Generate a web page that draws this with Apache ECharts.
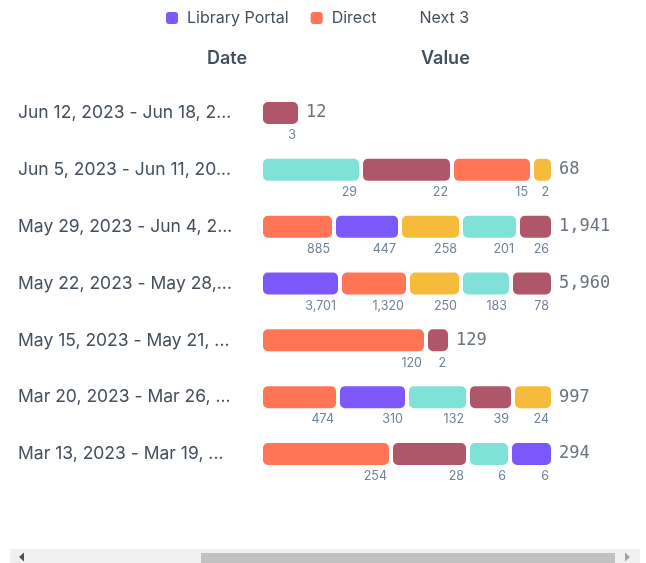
<!DOCTYPE html>
<html>
<head>
<meta charset="utf-8">
<script src="https://cdn.jsdelivr.net/npm/echarts@6/dist/echarts.min.js"></script>
<style>
html,body{margin:0;padding:0;background:#fff;}
#chart{width:646px;height:563px;}
</style>
</head>
<body>
<div id="chart"></div>
<script>
// ---- data ----
const dateRanges = [
  'Jun 12, 2023 - Jun 18, 2023',
  'Jun 5, 2023 - Jun 11, 2023',
  'May 29, 2023 - Jun 4, 2023',
  'May 22, 2023 - May 28, 2023',
  'May 15, 2023 - May 21, 2023',
  'Mar 20, 2023 - Mar 26, 2023',
  'Mar 13, 2023 - Mar 19, 2023'
];
const rowTotals = [12, 68, 1941, 5960, 129, 997, 294];
// segment values per row (in drawing order)
const segmentValues = [
  [3],
  [29, 22, 15, 2],
  [885, 447, 258, 201, 26],
  [3701, 1320, 250, 183, 78],
  [120, 2],
  [474, 310, 132, 39, 24],
  [254, 28, 6, 6]
];
// source of each segment
const segmentSources = [
  ['Next 3 · B'],
  ['Next 3 · A', 'Next 3 · B', 'Direct', 'Next 3 · C'],
  ['Direct', 'Library Portal', 'Next 3 · C', 'Next 3 · A', 'Next 3 · B'],
  ['Library Portal', 'Direct', 'Next 3 · C', 'Next 3 · A', 'Next 3 · B'],
  ['Direct', 'Next 3 · B'],
  ['Direct', 'Library Portal', 'Next 3 · A', 'Next 3 · B', 'Next 3 · C'],
  ['Direct', 'Next 3 · B', 'Next 3 · A', 'Library Portal']
];
// displayed segment length (relative units)
const segmentLengths = [
  [39],
  [100, 91, 80, 21],
  [73, 66, 61, 57, 35],
  [79, 68, 53, 50, 42],
  [165, 24],
  [77, 69, 61, 45, 40],
  [130, 77, 42, 43]
];
const legendNames = ['Library Portal', 'Direct', 'Next 3'];

// ---- styles ----
const sourceColors = {
  'Library Portal': '#7c58fc',
  'Direct': '#ff7555',
  'Next 3 · A': '#80e1d9',
  'Next 3 · B': '#b0566b',
  'Next 3 · C': '#f7bb3b'
};
const textColor = '#434f5c';
const fontFamily = 'Inter, "Noto Sans", sans-serif';

const maxSegs = Math.max(...segmentValues.map(r => r.length));
const series = [];
for (let p = 0; p < maxSegs; p++) {
  series.push({
    type: 'bar',
    name: 'pos' + p,
    stack: 'row',
    barWidth: 26,
    data: segmentValues.map((row, r) => {
      if (p >= row.length) return '-';
      return {
        value: segmentLengths[r][p],
        itemStyle: { color: sourceColors[segmentSources[r][p]] }
      };
    }),
    itemStyle: { borderColor: '#fff', borderWidth: 2, borderRadius: 6 },
    label: {
      show: true,
      position: ['100%', '100%'],
      align: 'right',
      verticalAlign: 'top',
      offset: [-4, 3],
      color: '#6f8299',
      fontSize: 12.5,
      fontFamily: fontFamily,
      formatter: params => segmentValues[params.dataIndex][p].toLocaleString('en-US')
    },
    emphasis: { disabled: true }
  });
}
// legend-only series
const legendColors = ['#7c58fc', '#ff7555', 'rgba(0,0,0,0)'];
legendNames.forEach((n, i) => {
  series.push({ type: 'bar', name: n, stack: 'row', data: [], itemStyle: { color: legendColors[i] } });
});
// totals at the end of each row
series.push({
  type: 'scatter',
  name: 'total',
  symbolSize: 0,
  data: segmentLengths.map((row, r) => [row.reduce((a, b) => a + b, 0), r]),
  label: {
    show: true,
    position: 'right',
    distance: 6,
    color: textColor,
    fontSize: 17,
    fontFamily: '"DejaVu Sans Mono", monospace',
    formatter: params => rowTotals[params.dataIndex].toLocaleString('en-US')
  },
  silent: true
});

const chart = echarts.init(document.getElementById('chart'), null, { renderer: 'canvas' });
chart.setOption({
  animation: false,
  backgroundColor: '#fff',
  legend: {
    data: legendNames,
    left: 166,
    top: 10,
    padding: 0,
    icon: 'roundRect',
    itemWidth: 12,
    itemHeight: 12,
    itemGap: 22,
    textStyle: { color: textColor, fontSize: 16, fontFamily: fontFamily, padding: [0, 0, 0, 4] }
  },
  grid: { left: 261, width: 292, top: 84.6, bottom: 80.6 },
  xAxis: { type: 'value', min: 0, max: 292, show: false },
  yAxis: {
    type: 'category',
    inverse: true,
    data: dateRanges,
    axisLine: { show: false },
    axisTick: { show: false },
    splitLine: { show: false },
    axisLabel: {
      align: 'left',
      margin: 243,
      width: 219,
      overflow: 'truncate',
      ellipsis: '...',
      color: textColor,
      fontSize: 17.5,
      fontFamily: fontFamily
    }
  },
  graphic: [
    { type: 'text', left: 207, top: 50, style: { text: 'Date', fill: textColor, font: '600 18px ' + fontFamily } },
    { type: 'text', left: 421, top: 50, style: { text: 'Value', fill: textColor, font: '600 18px ' + fontFamily } },
    { type: 'rect', shape: { x: 10, y: 549, width: 630, height: 14 }, style: { fill: '#f0f0f0' } },
    { type: 'rect', shape: { x: 201, y: 553, width: 414, height: 10 }, style: { fill: '#c1c1c1' } },
    { type: 'polygon', shape: { points: [[19, 557], [24, 552.5], [24, 561.5]] }, style: { fill: '#505050' } },
    { type: 'polygon', shape: { points: [[630, 557], [625, 552.5], [625, 561.5]] }, style: { fill: '#a3a3a3' } }
  ],
  series: series
});
</script>
</body>
</html>
